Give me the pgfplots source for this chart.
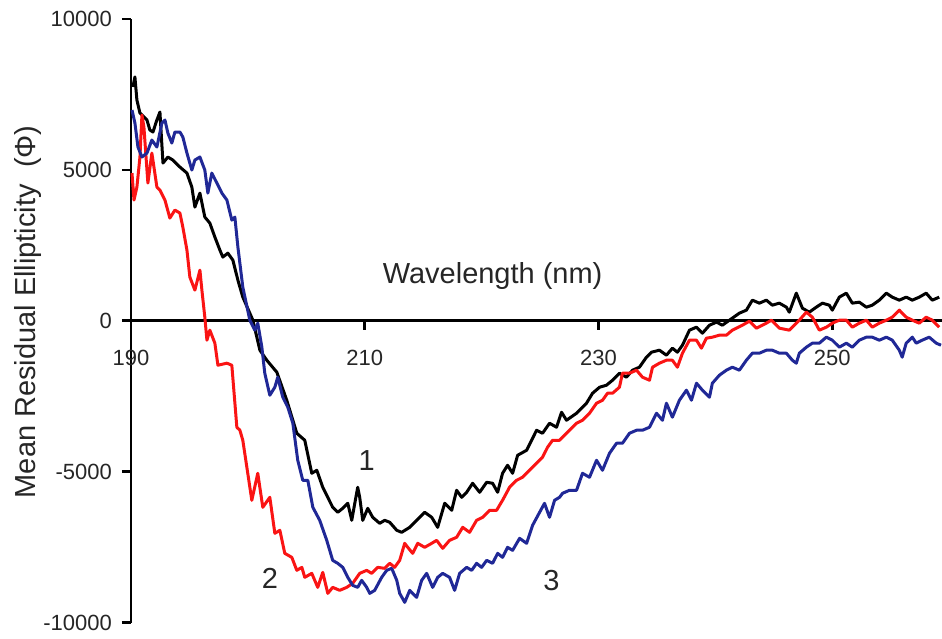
\documentclass[border=0pt]{standalone}
\usepackage{pgfplots}
\pgfplotsset{compat=1.18}
\usepackage{fontspec}
\setmainfont{Liberation Sans}
\definecolor{cdblue}{RGB}{32,40,150}
\definecolor{cdred}{RGB}{250,20,20}
\begin{document}
\begin{tikzpicture}
\begin{axis}[
  scale only axis,
  width=405.5pt, height=302pt,
  xmin=190, xmax=259.35,
  ymin=-10000, ymax=10000,
  scaled x ticks=false, scaled y ticks=false,
  axis x line*=middle,
  axis y line*=left,
  hide obscured x ticks=false,
  hide obscured y ticks=false,
  axis line style={line width=1.4pt, black},
  tick align=outside,
  major tick length=4.5pt,
  tick style={line width=1.4pt, black},
  xtick={190,210,230,250},
  xticklabels={190,210,230,250},
  ytick={-10000,-5000,0,5000,10000},
  yticklabels={-10000,-5000,0,5000,10000},
  ticklabel style={font=\fontsize{11}{13}\selectfont, text=black!85},
  xticklabel style={yshift=-6.8pt},
  yticklabel style={xshift=-1.5pt},
  every axis plot/.append style={line width=1.5pt, line join=round},
  clip=false,
]
\addplot[black] coordinates {
(190.17,7750)(190.34,8080)(190.51,7316)(190.77,6885)(191.37,6653)(191.62,6322)(191.88,6255)(192.22,6653)(192.48,6918)(192.74,5228)(193.16,5427)(193.59,5327)(194.19,5095)(194.79,4896)(195.21,4432)(195.47,3769)(195.90,4233)(196.32,3438)(196.75,3239)(197.18,2775)(197.61,2344)(197.86,2112)(198.29,2244)(198.72,2012)(199.15,1349)(199.57,786)(200.17,255)(200.43,23)(201.03,-971)(201.62,-1303)(202.48,-1701)(203.33,-2629)(204.19,-3723)(204.87,-3955)(205.47,-5049)(205.90,-4949)(206.41,-5513)(207.26,-6176)(207.69,-6342)(208.12,-6209)(208.55,-6043)(208.89,-6607)(209.15,-6043)(209.40,-5513)(209.57,-5844)(209.83,-6607)(210.26,-6209)(210.68,-6507)(211.28,-6706)(211.71,-6607)(212.14,-6673)(212.74,-6938)(213.16,-7005)(213.85,-6839)(214.44,-6607)(215.13,-6342)(215.73,-6507)(216.24,-6839)(216.84,-6043)(217.44,-6275)(217.86,-5612)(218.29,-5844)(218.72,-5679)(219.23,-5380)(219.83,-5679)(220.43,-5347)(220.94,-5380)(221.37,-5679)(221.79,-5049)(222.22,-4783)(222.65,-5049)(223.08,-4452)(223.85,-4286)(224.70,-3623)(225.21,-3723)(225.81,-3391)(226.41,-3524)(226.84,-3027)(227.26,-3292)(228.12,-3060)(228.97,-2728)(229.49,-2397)(230.09,-2198)(230.68,-2132)(231.20,-1966)(231.79,-1734)(232.39,-1866)(232.91,-1634)(233.50,-1535)(234.10,-1203)(234.53,-1038)(235.21,-971)(235.81,-1137)(236.32,-905)(236.75,-1038)(237.18,-806)(237.78,-308)(238.38,-209)(238.89,-408)(239.49,-143)(240.09,-43)(240.60,-143)(241.20,23)(242.05,255)(242.65,355)(243.16,686)(243.76,587)(244.36,686)(244.87,520)(245.47,587)(246.07,454)(246.32,288)(246.92,918)(247.44,421)(248.03,288)(248.63,454)(249.15,587)(249.74,520)(250.00,355)(250.60,786)(251.20,918)(251.71,587)(252.31,620)(252.91,454)(253.42,520)(254.02,686)(254.62,918)(255.13,786)(255.73,686)(256.32,786)(256.84,686)(257.44,786)(258.03,918)(258.55,686)(259.15,786)
};
\addplot[cdred] coordinates {
(190.09,4896)(190.26,4001)(190.51,4432)(190.77,5427)(190.94,6819)(191.11,6421)(191.37,4996)(191.45,4565)(191.79,5559)(191.88,5327)(192.22,4432)(192.48,4333)(192.91,4001)(193.33,3405)(193.76,3670)(194.19,3570)(194.44,3106)(194.79,2344)(195.04,1449)(195.47,1018)(195.90,1681)(196.07,1018)(196.32,123)(196.50,-640)(196.75,-308)(197.18,-739)(197.44,-1469)(198.21,-1402)(198.63,-1469)(199.06,-3524)(199.32,-3623)(199.57,-3955)(200.34,-5944)(200.85,-5049)(201.28,-6176)(201.88,-5844)(202.31,-7038)(202.74,-6938)(203.16,-7701)(203.76,-7833)(204.19,-8264)(204.62,-8165)(204.87,-8496)(205.47,-8364)(205.98,-8828)(206.41,-8331)(206.84,-9027)(207.26,-8828)(207.86,-8927)(208.46,-8828)(208.97,-8695)(209.57,-8364)(210.17,-8264)(210.60,-8364)(211.11,-8165)(211.71,-8198)(212.14,-8032)(212.56,-8165)(212.99,-7933)(213.42,-7369)(213.68,-7502)(214.10,-7701)(214.53,-7369)(215.13,-7502)(215.73,-7369)(216.15,-7270)(216.67,-7535)(217.26,-7270)(217.86,-7170)(218.38,-6839)(218.97,-7005)(219.57,-6607)(220.09,-6507)(220.68,-6275)(221.28,-6275)(221.79,-5944)(222.39,-5513)(222.99,-5281)(223.50,-5181)(224.10,-4949)(224.70,-4717)(225.21,-4518)(225.64,-4187)(226.07,-3955)(226.67,-3955)(226.92,-3855)(227.52,-3623)(228.12,-3391)(228.63,-3292)(229.23,-3060)(229.83,-2728)(230.34,-2629)(230.77,-2397)(231.20,-2397)(231.79,-2198)(232.05,-1734)(232.65,-1734)(233.25,-1634)(233.76,-1866)(234.36,-1966)(234.62,-1535)(235.21,-1402)(235.81,-1303)(236.32,-1303)(236.75,-1535)(237.18,-1071)(237.78,-640)(238.38,-640)(238.80,-905)(239.23,-573)(239.74,-540)(240.34,-474)(240.94,-474)(241.45,-308)(242.31,-143)(242.91,-10)(243.50,-242)(244.36,-76)(244.79,23)(245.47,-242)(246.32,-308)(247.18,23)(247.78,288)(248.29,123)(248.89,-308)(249.49,-209)(250.00,-76)(250.60,23)(251.20,23)(251.71,-209)(252.31,-76)(252.91,23)(253.42,-209)(254.02,-76)(254.62,23)(255.13,123)(255.73,355)(256.32,123)(256.84,23)(257.44,-76)(258.03,123)(258.55,23)(259.15,-209)
};
\addplot[cdblue] coordinates {
(190.09,6985)(190.34,6554)(190.60,5758)(190.94,5427)(191.37,5559)(191.79,5990)(192.22,5758)(192.65,6554)(192.91,6653)(193.16,6222)(193.50,5891)(193.76,6255)(194.19,6255)(194.44,6090)(194.79,5559)(195.21,4996)(195.47,5327)(195.90,5427)(196.32,4996)(196.58,4233)(196.92,4896)(197.35,4565)(197.78,4233)(198.21,4001)(198.63,3338)(198.89,3438)(199.15,2443)(199.57,1117)(200.17,23)(200.60,-308)(200.85,-76)(201.20,-872)(201.45,-1734)(201.88,-2463)(202.31,-2198)(202.56,-1866)(202.99,-2529)(203.42,-2861)(203.85,-3391)(204.27,-4618)(204.70,-5281)(205.13,-5281)(205.56,-6176)(206.15,-6607)(206.75,-7270)(207.26,-7933)(207.69,-8032)(208.12,-8165)(208.55,-8496)(208.97,-8761)(209.40,-8828)(209.74,-8596)(210.17,-8828)(210.43,-9027)(210.85,-8927)(211.45,-8496)(211.88,-8264)(212.31,-8198)(212.74,-8596)(212.99,-9027)(213.42,-9325)(213.85,-8927)(214.44,-9159)(214.87,-8596)(215.30,-8364)(215.81,-8828)(216.24,-8496)(216.67,-8364)(217.26,-8496)(217.69,-8927)(218.12,-8364)(218.72,-8165)(219.15,-8264)(219.57,-8032)(220.00,-8165)(220.43,-7933)(220.94,-8032)(221.37,-7701)(221.79,-7833)(222.22,-7502)(222.65,-7601)(223.25,-7204)(223.85,-7369)(224.36,-6773)(224.96,-6342)(225.38,-6043)(225.81,-6507)(226.24,-5944)(226.67,-5844)(226.92,-5712)(227.52,-5612)(228.12,-5612)(228.63,-5049)(229.23,-5181)(229.83,-4618)(230.34,-4949)(230.94,-4386)(231.54,-4054)(232.05,-4054)(232.65,-3723)(233.25,-3623)(233.76,-3623)(234.36,-3524)(234.96,-3060)(235.47,-3292)(235.81,-2728)(236.32,-3192)(236.92,-2629)(237.52,-2297)(237.95,-2629)(238.38,-2065)(238.89,-2297)(239.49,-2529)(239.74,-2065)(240.34,-1800)(240.94,-1634)(241.45,-1535)(242.05,-1634)(242.65,-1303)(243.16,-1071)(243.76,-1071)(244.36,-971)(244.87,-971)(245.47,-1071)(246.07,-1071)(246.58,-1303)(246.92,-1402)(247.18,-1071)(247.78,-872)(248.29,-739)(248.89,-739)(249.49,-540)(250.00,-640)(250.60,-872)(251.20,-739)(251.71,-872)(252.31,-640)(252.91,-540)(253.42,-540)(254.02,-640)(254.62,-540)(255.13,-640)(255.73,-971)(255.98,-1203)(256.32,-739)(256.84,-540)(257.18,-739)(257.69,-640)(258.29,-540)(258.89,-739)(259.30,-806)
};
\node[font=\fontsize{14.5}{16}\selectfont, text=black!85] at (axis cs:220.94,1482) {Wavelength (nm)};
\node[font=\fontsize{14.5}{16}\selectfont, text=black!85, rotate=90] at (rel axis cs:-0.127,0.515) {Mean Residual Ellipticity\ \ (Φ)};
\node[font=\fontsize{14.5}{16}\selectfont, text=black!85] at (axis cs:210.17,-4630) {1};
\node[font=\fontsize{14.5}{16}\selectfont, text=black!85] at (axis cs:201.88,-8530) {2};
\node[font=\fontsize{14.5}{16}\selectfont, text=black!85] at (axis cs:225.98,-8596) {3};
\coordinate (bl) at (rel axis cs:0,0);
\coordinate (tr) at (rel axis cs:1,1);
\end{axis}
\pgfresetboundingbox
\path ([xshift=-65.5pt,yshift=-8pt]bl) rectangle ([xshift=0.2pt,yshift=9.5pt]tr);
\end{tikzpicture}
\end{document}
